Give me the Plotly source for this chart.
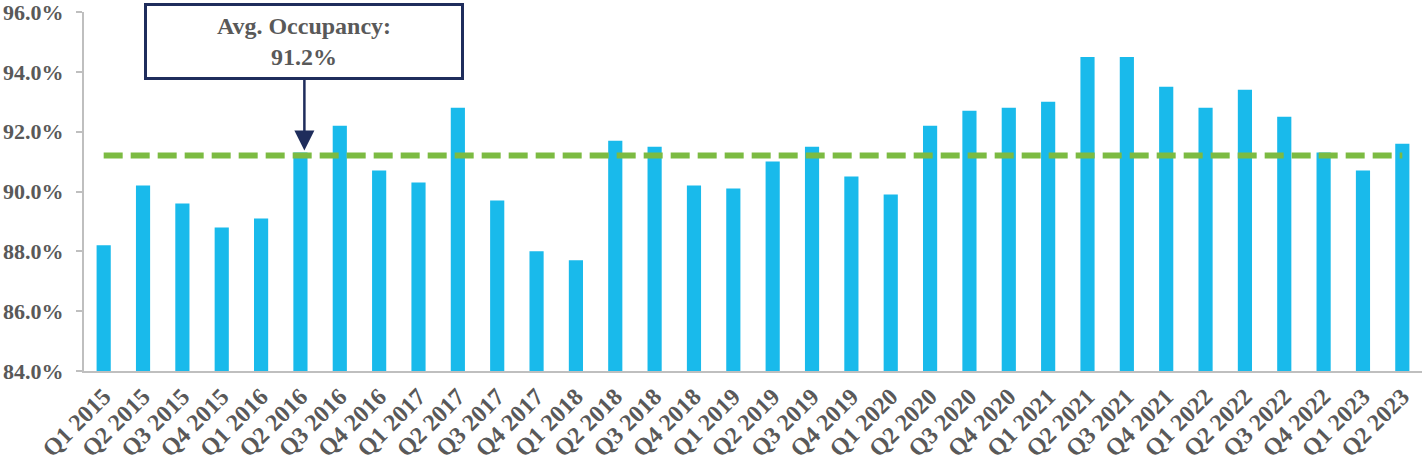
import plotly.graph_objects as go

quarters = ["Q1 2015", "Q2 2015", "Q3 2015", "Q4 2015",
            "Q1 2016", "Q2 2016", "Q3 2016", "Q4 2016",
            "Q1 2017", "Q2 2017", "Q3 2017", "Q4 2017",
            "Q1 2018", "Q2 2018", "Q3 2018", "Q4 2018",
            "Q1 2019", "Q2 2019", "Q3 2019", "Q4 2019",
            "Q1 2020", "Q2 2020", "Q3 2020", "Q4 2020",
            "Q1 2021", "Q2 2021", "Q3 2021", "Q4 2021",
            "Q1 2022", "Q2 2022", "Q3 2022", "Q4 2022",
            "Q1 2023", "Q2 2023"]
occupancy = [88.2, 90.2, 89.6, 88.8,
             89.1, 91.3, 92.2, 90.7,
             90.3, 92.8, 89.7, 88.0,
             87.7, 91.7, 91.5, 90.2,
             90.1, 91.0, 91.5, 90.5,
             89.9, 92.2, 92.7, 92.8,
             93.0, 94.5, 94.5, 93.5,
             92.8, 93.4, 92.5, 91.3,
             90.7, 91.6]
avg_occupancy = 91.2
y_ticks = [84, 86, 88, 90, 92, 94, 96]
y_tick_labels = ["84.0%", "86.0%", "88.0%", "90.0%", "92.0%", "94.0%", "96.0%"]

FONT = "Liberation Serif"
GRAY = "#595959"

fig = go.Figure()
fig.add_trace(go.Bar(
    x=quarters, y=occupancy,
    marker=dict(color="#19BAEB", line=dict(width=0)),
    width=0.36,
))
fig.add_trace(go.Scatter(
    x=quarters, y=[avg_occupancy] * len(quarters),
    mode="lines",
    line=dict(color="#7CBB42", width=6, dash="19px,8px"),
))

fig.add_annotation(
    x=5.1, y=avg_occupancy, xref="x", yref="y",
    text="<b>Avg. Occupancy:<br>91.2%</b>",
    font=dict(family=FONT, size=24, color=GRAY),
    showarrow=True, axref="pixel", ayref="pixel", ax=0, ay=-114,
    arrowhead=2, arrowsize=1.6, arrowwidth=2.5, arrowcolor="#1F2D5C",
    standoff=5,
    width=314, height=71,
    bordercolor="#1F2D5C", borderwidth=3, borderpad=0,
    bgcolor="white",
)

fig.update_layout(
    width=1422, height=455,
    margin=dict(l=84, r=0, t=12, b=84),
    plot_bgcolor="white", paper_bgcolor="white",
    showlegend=False,
)
fig.update_yaxes(
    range=[84, 96], automargin=False,
    tickvals=y_ticks, ticktext=y_tick_labels,
    tickfont=dict(family=FONT, size=22, color=GRAY, weight="bold"),
    ticklabeloverflow="allow",
    showgrid=False, zeroline=False,
    showline=True, linecolor="#BFBFBF", linewidth=2,
    ticks="outside", ticklen=6, tickcolor="#BFBFBF", tickwidth=2,
    ticklabelstandoff=8,
)
fig.update_xaxes(
    tickangle=-45, automargin=False,
    tickfont=dict(family=FONT, size=24, color=GRAY, weight="bold"),
    ticklabeloverflow="allow",
    showgrid=False,
    showline=True, linecolor="#BFBFBF", linewidth=2,
    ticks="",
    range=[-0.5, len(quarters) - 0.5],
)

fig.write_html(
    "out.html",
    config={"displayModeBar": False},
    post_script="document.body.style.margin='0';document.body.style.overflow='hidden';",
)
